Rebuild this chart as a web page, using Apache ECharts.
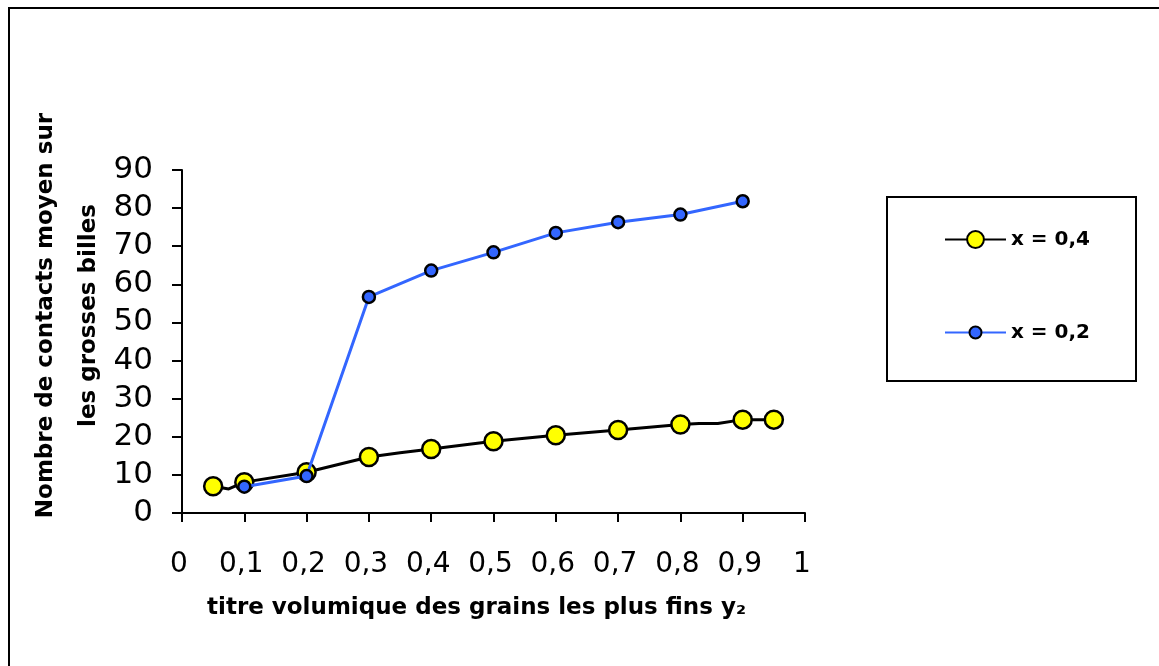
<!DOCTYPE html>
<html>
<head>
<meta charset="utf-8">
<script src="https://cdn.jsdelivr.net/npm/echarts@6/dist/echarts.min.js"></script>
<style>
html,body{margin:0;padding:0;background:#fff;}
#chart{width:1159px;height:666px;}
</style>
</head>
<body>
<div id="chart"></div>
<script>
// ---- data ----
const xTicks = [0, 0.1, 0.2, 0.3, 0.4, 0.5, 0.6, 0.7, 0.8, 0.9, 1];
const yTicks = [0, 10, 20, 30, 40, 50, 60, 70, 80, 90];

// series "x = 0,4"
const x04_y2       = [0.05, 0.075, 0.1, 0.2, 0.3, 0.35, 0.4, 0.5, 0.6, 0.7, 0.8, 0.83, 0.86, 0.9, 0.95];
const x04_contacts = [7.0, 6.3, 8.1, 10.7, 14.7, 15.8, 16.8, 18.8, 20.4, 21.8, 23.2, 23.5, 23.5, 24.5, 24.5];
// vertices of the drawn curve that carry no marker
const x04_lineOnly = [0.075, 0.35, 0.83, 0.86];

// series "x = 0,2"
const x02_y2       = [0.1, 0.2, 0.3, 0.4, 0.5, 0.6, 0.7, 0.8, 0.9];
const x02_contacts = [6.9, 9.7, 56.7, 63.6, 68.4, 73.5, 76.3, 78.3, 81.8];

const seriesNames = ['x = 0,4', 'x = 0,2'];
const xAxisTitle = 'titre volumique des grains les plus fins y\u2082';
const yAxisTitle = 'Nombre de contacts moyen sur\nles grosses billes';

const FONT = '"Comic Sans MS", "DejaVu Sans", sans-serif';

const blackData = x04_y2.map((x, i) => {
  const item = { value: [x, x04_contacts[i]] };
  if (x04_lineOnly.indexOf(x) >= 0) item.symbol = 'none';
  return item;
});
const blueData = x02_y2.map((x, i) => [x, x02_contacts[i]]);

const chart = echarts.init(document.getElementById('chart'), null, { renderer: 'canvas' });

const fmt = v => String(Math.round(v * 10) / 10).replace('.', ',');

chart.setOption({
  backgroundColor: '#ffffff',
  animation: false,
  grid: { left: 182, right: 354, top: 170, bottom: 153, containLabel: false },
  xAxis: {
    type: 'value', min: 0, max: 1, interval: 0.1,
    axisLine: { show: true, onZero: false, lineStyle: { color: '#000', width: 2 } },
    axisTick: { show: true, length: 9, lineStyle: { color: '#000', width: 2 } },
    splitLine: { show: false },
    axisLabel: { color: '#000', fontFamily: FONT, fontSize: 28, margin: 38, padding: [0, 6, 0, 0], formatter: fmt },
    name: xAxisTitle, nameLocation: 'middle', nameGap: 84,
    nameTextStyle: { color: '#000', fontFamily: FONT, fontWeight: 'bold', fontSize: 23, padding: [0, 34, 0, 0] }
  },
  yAxis: {
    type: 'value', min: 0, max: 90, interval: 10,
    axisLine: { show: true, lineStyle: { color: '#000', width: 2 } },
    axisTick: { show: true, length: 10, lineStyle: { color: '#000', width: 2 } },
    splitLine: { show: false },
    axisLabel: { color: '#000', fontFamily: FONT, fontSize: 31, margin: 29 },
    name: yAxisTitle, nameLocation: 'middle', nameGap: 71, nameRotate: 90, nameMoveOverlap: false,
    nameTextStyle: { color: '#000', fontFamily: FONT, fontWeight: 'bold', fontSize: 23, lineHeight: 43, align: 'center', padding: [0, 0, 0, 52] }
  },
  legend: [
    {
      data: [seriesNames[0]], left: 944, top: 229.5, orient: 'vertical',
      itemWidth: 61, itemHeight: 21, padding: 0,
      textStyle: { color: '#000', fontFamily: FONT, fontWeight: 'bold', fontSize: 20 }
    },
    {
      data: [seriesNames[1]], left: 944, top: 322.5, orient: 'vertical',
      itemWidth: 61, itemHeight: 15, padding: 0,
      textStyle: { color: '#000', fontFamily: FONT, fontWeight: 'bold', fontSize: 20 }
    }
  ],
  graphic: [
    { type: 'rect', shape: { x: 9, y: 8, width: 1200, height: 700 }, style: { fill: 'none', stroke: '#000', lineWidth: 2 }, silent: true },
    { type: 'rect', shape: { x: 887, y: 197, width: 249, height: 184 }, style: { fill: 'none', stroke: '#000', lineWidth: 2 }, silent: true }
  ],
  series: [
    {
      name: seriesNames[0], type: 'line', data: blackData,
      symbol: 'circle', symbolSize: 18,
      lineStyle: { color: '#000', width: 3 },
      itemStyle: { color: '#ffff00', borderColor: '#000', borderWidth: 2.5 },
      z: 2
    },
    {
      name: seriesNames[1], type: 'line', data: blueData,
      symbol: 'circle', symbolSize: 12,
      lineStyle: { color: '#3366ff', width: 3 },
      itemStyle: { color: '#3366ff', borderColor: '#000', borderWidth: 2.5 },
      z: 3
    }
  ]
});
</script>
</body>
</html>
